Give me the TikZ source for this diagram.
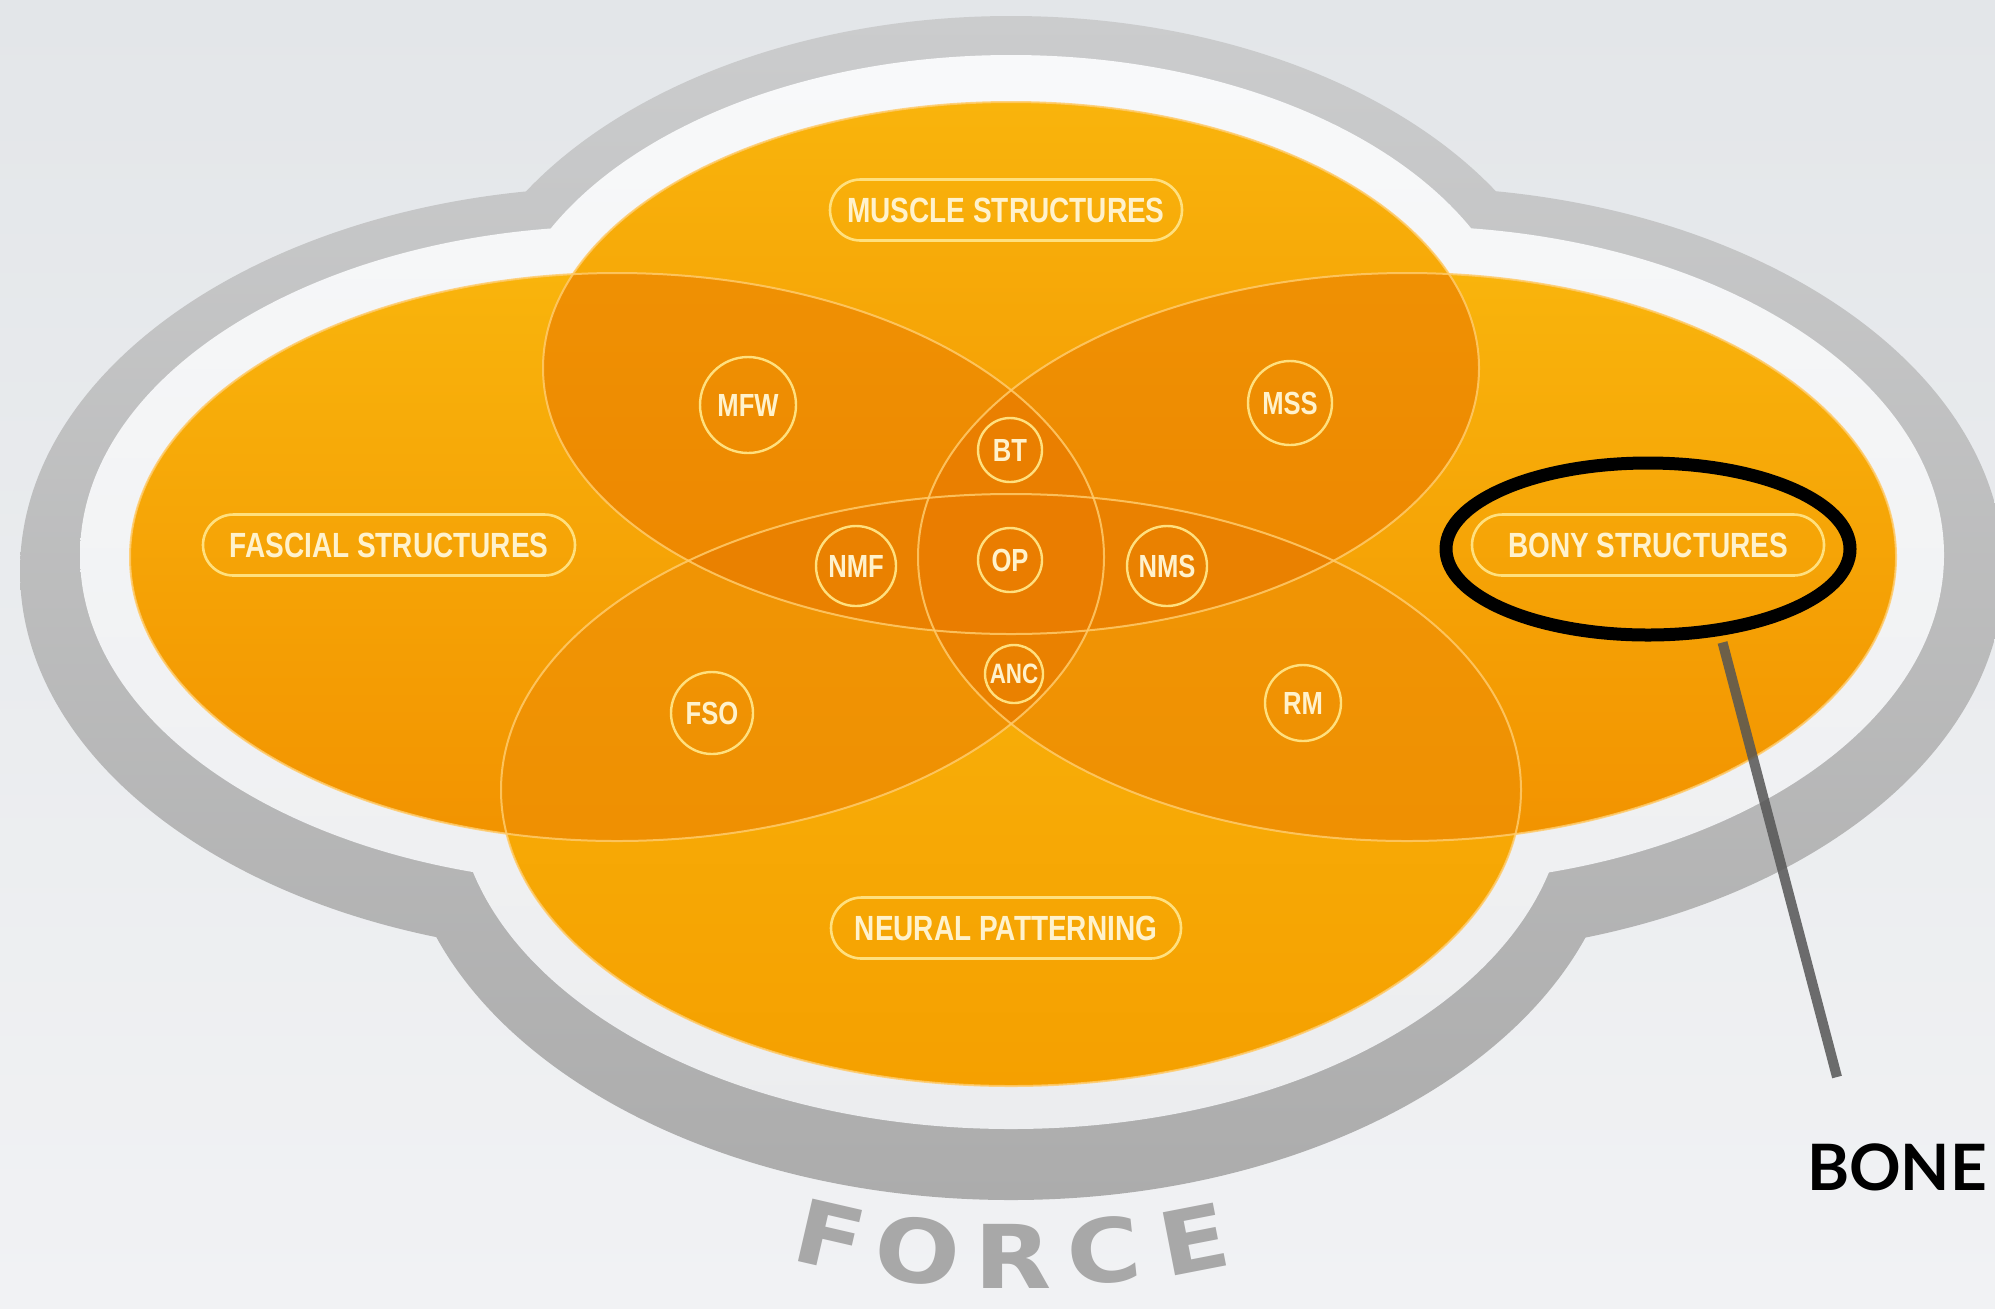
\documentclass[tikz,border=0pt]{standalone}
\usepackage{fontspec}
\usetikzlibrary{shapes.misc,shapes.geometric}

\newfontfamily\lblfont{Liberation Sans}[FakeStretch=0.8]
\newfontfamily\forcefont{DejaVu Sans}[FakeStretch=1.14]
\newfontfamily\bonefont{Lato}

\definecolor{bgTop}{HTML}{E3E6E9}
\definecolor{bgBot}{HTML}{F1F2F4}
\definecolor{rimTop}{HTML}{CBCCCD}
\definecolor{rimBot}{HTML}{ACACAC}
\definecolor{bandTop}{HTML}{F8F9FA}
\definecolor{bandBot}{HTML}{ECEDEF}
\definecolor{oTop}{HTML}{F9B40C}
\definecolor{oMid}{HTML}{F7A402}
\definecolor{oBot}{HTML}{F29300}
\definecolor{oBotLight}{HTML}{F5A000}
\definecolor{oDeep}{HTML}{EA7D00}
\definecolor{edgeLine}{HTML}{FFCB6B}
\definecolor{tagLine}{HTML}{FFE07E}
\definecolor{tagText}{HTML}{FFF2CC}
\definecolor{forceGray}{HTML}{A8A8A8}
\definecolor{pointerGray}{HTML}{555555}

% the four overlapping fields
\def\ellT{(1011,368) ellipse [x radius=468, y radius=266]}
\def\ellB{(1011,790) ellipse [x radius=510, y radius=296]}
\def\ellL{(617,557) ellipse [x radius=487, y radius=284]}
\def\ellR{(1407,557) ellipse [x radius=489, y radius=284]}

\begin{document}
\begin{tikzpicture}[x=0.5pt, y=-0.5pt,
  field/.style={top color=oTop, middle color=oMid, bottom color=oBot},
  fieldlow/.style={top color=oTop, bottom color=oBotLight},
  overlap/.style={fill=oDeep, fill opacity=0.55},
  edge/.style={draw=edgeLine, line width=1pt, draw opacity=0.85},
  tag/.style={rounded rectangle, draw=tagLine, line width=1.3pt,
    minimum height=30.5pt, inner sep=0pt, text=tagText,
    font=\lblfont\bfseries\fontsize{17.5}{20}\selectfont},
  dot/.style={circle, draw=tagLine, line width=1.2pt, inner sep=-8pt,
    text=tagText, font=\lblfont\bfseries\fontsize{16}{18}\selectfont},
  forceletter/.style={text=forceGray, inner sep=0pt,
    font=\forcefont\bfseries\fontsize{44}{46}\selectfont},
  highlight/.style={ellipse, draw=black, line width=6.5pt, inner sep=0pt},
  pointer/.style={draw=pointerGray, line width=5pt, draw opacity=0.85,
    shorten <=3.5pt}]

\useasboundingbox (0,0) rectangle (1995,1308);
\shade[top color=bgTop, bottom color=bgBot] (0,0) rectangle (1995,1308);

% grey outer rim and pale band of the cloud
\shade[top color=rimTop, bottom color=rimBot]
  (1011,382) ellipse [x radius=568, y radius=366]
  (1011,804) ellipse [x radius=610, y radius=396]
  (617,571) ellipse [x radius=597, y radius=384]
  (1407,571) ellipse [x radius=597, y radius=384];
\shade[top color=bandTop, bottom color=bandBot]
  (1011,366) ellipse [x radius=513, y radius=311]
  (1011,788) ellipse [x radius=555, y radius=341]
  (617,555) ellipse [x radius=537, y radius=329]
  (1407,555) ellipse [x radius=537, y radius=329];

% orange fields
\shade[field] \ellL;
\shade[field] \ellR;
\shade[field] \ellT;
\shade[fieldlow] \ellB;

% darker overlaps
\begin{scope}\clip \ellL; \fill[overlap] \ellT; \end{scope}
\begin{scope}\clip \ellL; \fill[overlap] \ellB; \end{scope}
\begin{scope}\clip \ellR; \fill[overlap] \ellT; \end{scope}
\begin{scope}\clip \ellR; \fill[overlap] \ellB; \end{scope}
\begin{scope}\clip \ellT; \fill[overlap] \ellB; \end{scope}
\begin{scope}\clip \ellL; \fill[overlap] \ellR; \end{scope}

% field outlines
\draw[edge] \ellL;
\draw[edge] \ellR;
\draw[edge] \ellT;
\draw[edge] \ellB;

% field titles
\node[tag, minimum width=176pt] (muscle) at (1006,210) {MUSCLE STRUCTURES};
\node[tag, minimum width=186pt] (fascial) at (389,545) {FASCIAL STRUCTURES};
\node[tag, minimum width=176pt] (bony) at (1648,545) {BONY STRUCTURES};
\node[tag, minimum width=175pt] (neural) at (1006,928) {NEURAL PATTERNING};

% overlap markers
\node[dot, minimum size=48pt] (mfw) at (748,405) {MFW};
\node[dot, minimum size=42pt] (mss) at (1290,403) {MSS};
\node[dot, minimum size=32pt] (bt) at (1010,450) {BT};
\node[dot, minimum size=40pt] (nmf) at (856,566) {NMF};
\node[dot, minimum size=32pt] (op) at (1010,560) {OP};
\node[dot, minimum size=40pt] (nms) at (1167,566) {NMS};
\node[dot, minimum size=29pt, font=\lblfont\bfseries\fontsize{14}{16}\selectfont] (anc) at (1014,674) {ANC};
\node[dot, minimum size=41pt] (fso) at (712,713) {FSO};
\node[dot, minimum size=38pt] (rm) at (1303,703) {RM};

% curved caption below the cloud
\node[forceletter, rotate=-13] (fF) at (830,1236) {F};
\node[forceletter, rotate=-7] (fO) at (918,1251) {O};
\node[forceletter, rotate=0] (fR) at (1013,1256) {R};
\node[forceletter, rotate=6] (fC) at (1104,1251) {C};
\node[forceletter, rotate=11] (fE) at (1194,1239) {E};

% call-out on the bony field
\node[highlight, minimum width=202pt, minimum height=86pt] (hl) at (1648,549) {};
\coordinate (tail) at (1837,1077);
\draw[pointer] (hl.-50) -- (tail);
\node[anchor=base, inner sep=0pt, font=\bonefont\bfseries\fontsize{32}{36}\selectfont] (bone) at (1897,1190) {BONE};

\end{tikzpicture}
\end{document}
